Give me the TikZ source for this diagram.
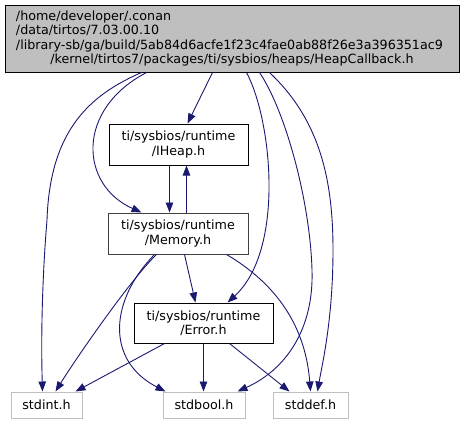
\documentclass[tikz,border=0pt]{standalone}
\usepackage{fontspec}
\setmainfont{DejaVu Sans}
\usetikzlibrary{arrows.meta,calc}
\definecolor{edgeblue}{HTML}{191970}
\definecolor{topfill}{HTML}{BFBFBF}
\definecolor{lightborder}{HTML}{BFBFBF}
\definecolor{darkborder}{HTML}{404040}
\begin{document}
\begin{tikzpicture}[x=1pt,y=-1pt,
  every node/.style={font=\fontsize{12.7}{14.3}\selectfont, inner sep=0pt, align=center},
  filebox/.style={draw=black, line width=1pt, fill=white},
  sysbox/.style={draw=lightborder, line width=1pt, fill=white},
  dep/.style={draw=edgeblue, line width=0.9pt, -{Triangle[length=10pt,width=7.5pt]}}
]
\useasboundingbox (0,0) rectangle (464,424);
\node[draw=black, line width=1pt, fill=topfill, minimum width=454pt, minimum height=67pt,
      text width=432pt, align=left] (top) at (232,38.5)
  {/home/developer/.conan\\/data/tirtos/7.03.00.10\\/library-sb/ga/build/5ab84d6acfe1f23c4fae0ab88f26e3a396351ac9\\\makebox[432pt][c]{/kernel/tirtos7/packages/ti/sysbios/heaps/HeapCallback.h}};
\node[filebox, minimum width=139pt, minimum height=41pt] (iheap) at (178.5,144.5) {ti/sysbios/runtime\\/IHeap.h};
\node[filebox, draw=darkborder, minimum width=140pt, minimum height=41pt] (memory) at (178,233.5) {ti/sysbios/runtime\\/Memory.h};
\node[filebox, minimum width=139pt, minimum height=40pt] (error) at (203.5,323) {ti/sysbios/runtime\\/Error.h};
\node[sysbox, minimum width=71pt, minimum height=26pt] (stdint) at (46.5,405) {stdint.h};
\node[sysbox, minimum width=82pt, minimum height=26pt] (stdbool) at (204,405) {stdbool.h};
\node[sysbox, minimum width=75pt, minimum height=26pt] (stddef) at (310.5,405) {stddef.h};

% top -> IHeap
\draw[dep] ($(top.south west)+(208,0)$) -- ($(iheap.north west)+(79,0)$);
% top -> Memory
\draw[dep] ($(top.south west)+(142,0)$) .. controls (75,110) and (80,185) .. ($(memory.north west)+(34,0)$);
% top -> stdint
\draw[dep] ($(top.south west)+(137,0)$) .. controls (90,95) and (50,130) .. (47,220) .. controls (42,280) and (41,340) .. ($(stdint.north west)+(32,0)$);
% IHeap <-> Memory
\draw[dep] ($(iheap.south west)+(61,0)$) -- ($(memory.north west)+(62,0)$);
\draw[dep] ($(memory.north west)+(79,0)$) -- ($(iheap.south west)+(78,0)$);
% top -> Error
\draw[dep] ($(top.south west)+(242,0)$) .. controls (272,120) and (285,250) .. ($(error.north west)+(94,0)$);
% top -> stdbool
\draw[dep] ($(top.south west)+(255,0)$) .. controls (285,110) and (310,200) .. (312,270) .. controls (314,330) and (285,370) .. ($(stdbool.north east)+(-8,0)$);
% top -> stddef
\draw[dep] ($(top.south west)+(265,0)$) .. controls (320,120) and (333,180) .. (333,250) .. controls (333,320) and (322,365) .. ($(stddef.north west)+(45,0)$);
% Memory -> Error
\draw[dep] ($(memory.south west)+(77,0)$) -- ($(error.north west)+(62,0)$);
% Memory -> stdint
\draw[dep] ($(memory.south west)+(49,0)$) .. controls (130,280) and (75,360) .. ($(stdint.north west)+(45,0)$);
% Memory -> stdbool
\draw[dep] ($(memory.south west)+(47,0)$) .. controls (110,300) and (105,360) .. ($(stdbool.north west)+(3,0)$);
% Memory -> stddef
\draw[dep] ($(memory.south west)+(119,0)$) .. controls (270,280) and (305,320) .. ($(stddef.north west)+(38,0)$);
% Error -> stdint
\draw[dep] ($(error.south west)+(31,0)$) -- ($(stdint.north east)+(-7,0)$);
% Error -> stdbool
\draw[dep] ($(error.south west)+(70,0)$) -- ($(stdbool.north west)+(41,0)$);
% Error -> stddef
\draw[dep] ($(error.south west)+(96,0)$) -- ($(stddef.north west)+(17,0)$);
\end{tikzpicture}
\end{document}
